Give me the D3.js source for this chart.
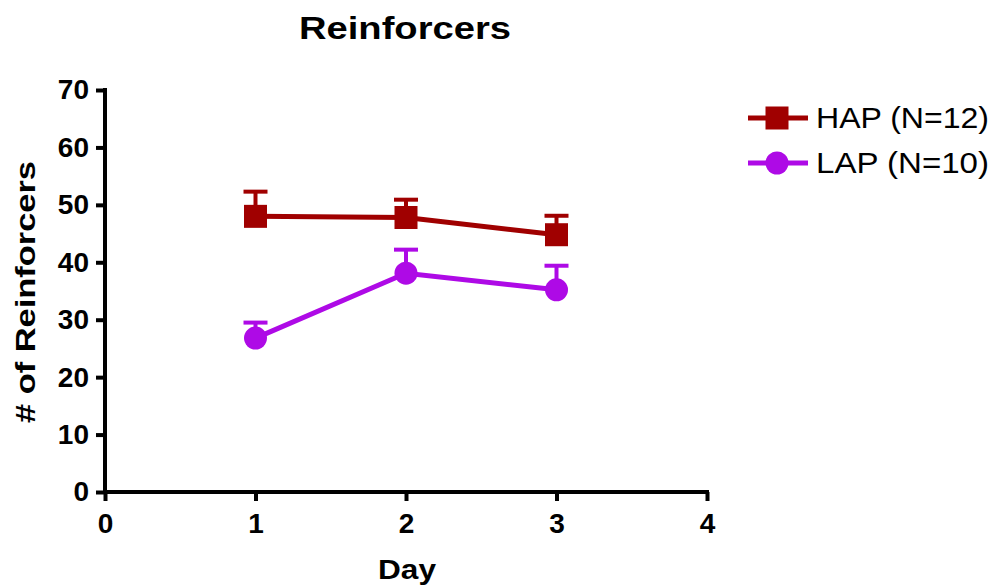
<!DOCTYPE html>
<html>
<head>
<meta charset="utf-8">
<script src="https://cdn.jsdelivr.net/npm/d3@7"></script>
<style>
  html, body { margin: 0; padding: 0; background: #fff; }
  svg { display: block; }
  text { font-family: "Liberation Sans", Arial, sans-serif; fill: #000; }
</style>
</head>
<body>
<svg id="chart" width="994" height="588"></svg>
<script>
// Days and mean reinforcers (with SEM) per group
const days = [1, 2, 3];
const hapMean = [48.0, 47.8, 44.8];
const hapSem = [4.3, 3.1, 3.3];
const lapMean = [26.8, 38.1, 35.2];
const lapSem = [2.7, 4.1, 4.2];
const xTicks = [0, 1, 2, 3, 4];
const yTicks = [0, 10, 20, 30, 40, 50, 60, 70];

const series = [
  { name: "HAP (N=12)", mean: hapMean, sem: hapSem, color: "#a00000", shape: "square" },
  { name: "LAP (N=10)", mean: lapMean, sem: lapSem, color: "#ae0ae6", shape: "circle" }
];

const svg = d3.select("#chart");
const x = d3.scaleLinear().domain([0, 4]).range([105, 707]);
const y = d3.scaleLinear().domain([0, 70]).range([492, 90]);

// Axes
const xAxis = svg.append("g").attr("transform", "translate(0,492)")
  .call(d3.axisBottom(x).tickValues(xTicks).tickSize(9).tickPadding(12).tickFormat(d3.format("d")));
const yAxis = svg.append("g").attr("transform", "translate(105,0)")
  .call(d3.axisLeft(y).tickValues(yTicks).tickSize(9).tickPadding(7).tickFormat(d3.format("d")));

[xAxis, yAxis].forEach(g => {
  g.select(".domain").attr("stroke", "#000").attr("stroke-width", 4);
  g.selectAll(".tick line").attr("stroke", "#000").attr("stroke-width", 4);
  g.selectAll(".tick text").attr("font-size", 28).attr("font-weight", "bold")
    .attr("font-family", "Liberation Sans, Arial, sans-serif").attr("fill", "#000");
});
// drop the outer end tails of the domain
xAxis.select(".domain").attr("d", `M${x(0) - 2},0H${x(4) + 2}`);
yAxis.select(".domain").attr("d", `M0,${y(0) + 2}V${y(70) - 2}`);

// Error bars (upper only), lines, markers
const capHalf = 12;
series.forEach(s => {
  const g = svg.append("g");
  days.forEach((d, i) => {
    const top = y(s.mean[i] + s.sem[i]);
    g.append("line").attr("x1", x(d)).attr("x2", x(d))
      .attr("y1", y(s.mean[i])).attr("y2", top)
      .attr("stroke", s.color).attr("stroke-width", 4);
    g.append("line").attr("x1", x(d) - capHalf).attr("x2", x(d) + capHalf)
      .attr("y1", top).attr("y2", top)
      .attr("stroke", s.color).attr("stroke-width", 4);
  });
  g.append("path")
    .datum(days.map((d, i) => [d, s.mean[i]]))
    .attr("d", d3.line().x(p => x(p[0])).y(p => y(p[1])))
    .attr("fill", "none").attr("stroke", s.color).attr("stroke-width", 5);
  days.forEach((d, i) => drawMarker(g, s, x(d), y(s.mean[i])));
});

function drawMarker(g, s, cx, cy) {
  if (s.shape === "square") {
    g.append("rect").attr("x", cx - 11.5).attr("y", cy - 11.5)
      .attr("width", 23).attr("height", 23).attr("fill", s.color);
  } else {
    g.append("circle").attr("cx", cx).attr("cy", cy).attr("r", 11.5).attr("fill", s.color);
  }
}

// Legend
series.forEach((s, i) => {
  const cy = 118 + i * 45;
  const g = svg.append("g");
  g.append("line").attr("x1", 748).attr("x2", 808).attr("y1", cy).attr("y2", cy)
    .attr("stroke", s.color).attr("stroke-width", 5);
  drawMarker(g, s, 777, cy);
  g.append("text").attr("x", 816).attr("y", cy + 10).attr("font-size", 29)
    .attr("textLength", 173).attr("lengthAdjust", "spacingAndGlyphs")
    .text(s.name);
});

// Titles
svg.append("text").attr("x", 405).attr("y", 39).attr("text-anchor", "middle")
  .attr("font-size", 31).attr("font-weight", "bold")
  .attr("textLength", 212).attr("lengthAdjust", "spacingAndGlyphs").text("Reinforcers");
svg.append("text").attr("x", 407).attr("y", 579).attr("text-anchor", "middle")
  .attr("font-size", 28).attr("font-weight", "bold")
  .attr("textLength", 58).attr("lengthAdjust", "spacingAndGlyphs").text("Day");
svg.append("text").attr("transform", "translate(35,292) rotate(-90)")
  .attr("text-anchor", "middle").attr("font-size", 27).attr("font-weight", "bold")
  .attr("textLength", 262).attr("lengthAdjust", "spacingAndGlyphs")
  .text("# of Reinforcers");
</script>
</body>
</html>
